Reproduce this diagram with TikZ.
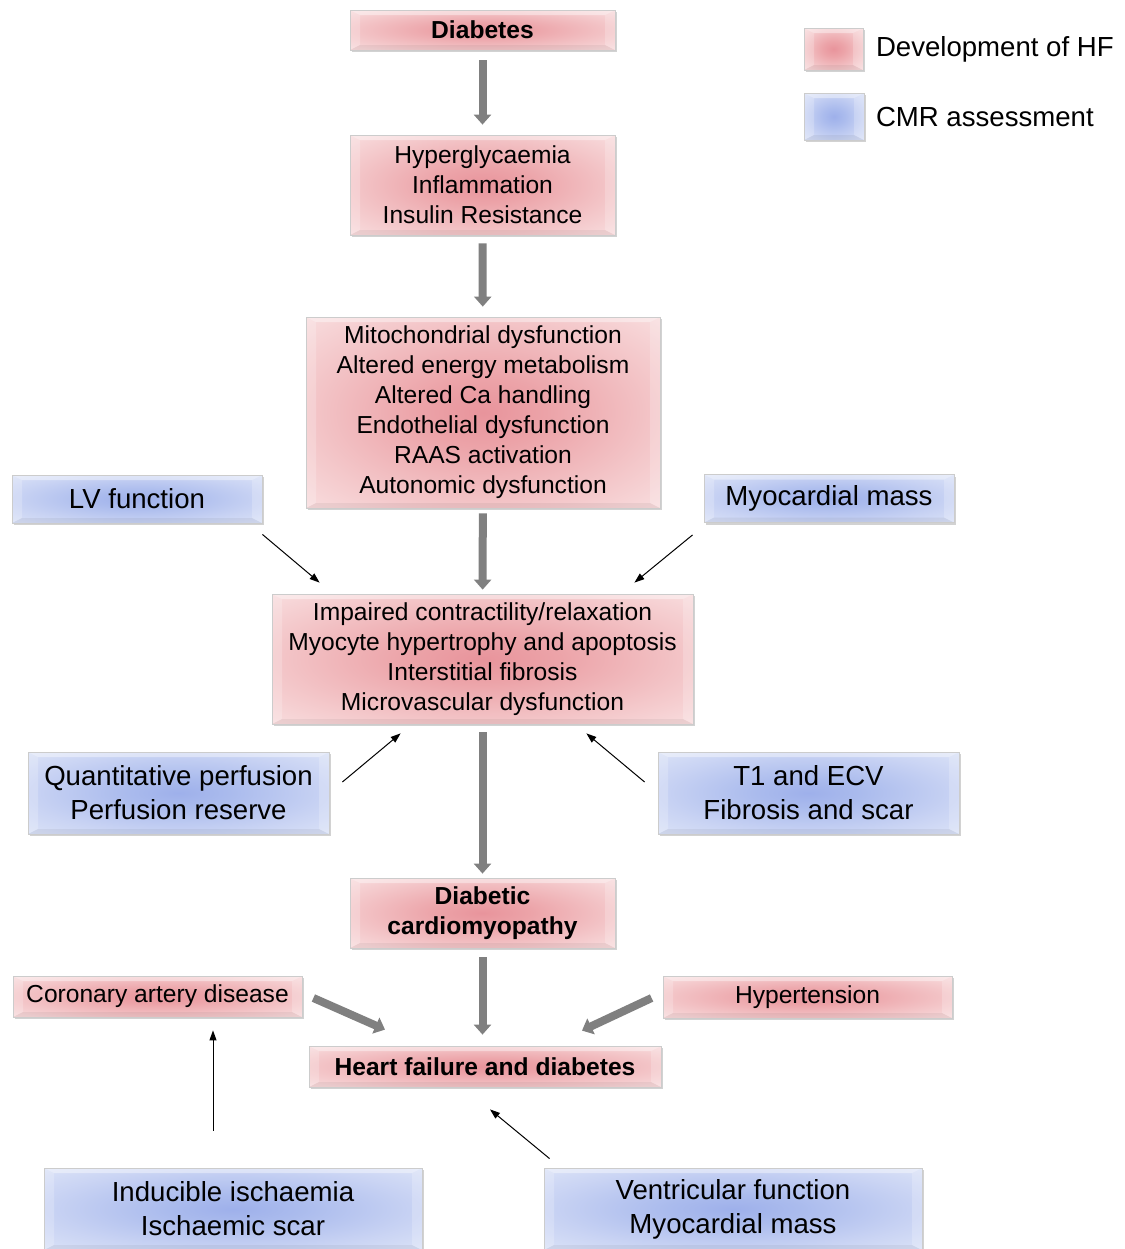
\documentclass[tikz,border=0pt]{standalone}
\usepackage{fontspec}
\setmainfont{Liberation Sans}
\usetikzlibrary{arrows.meta,positioning,shadows}

\definecolor{arrowgray}{RGB}{128,128,128}
\pgfdeclareradialshading{hfshade}{\pgfpoint{0bp}{0bp}}{%
  rgb(0bp)=(0.91,0.58,0.61); rgb(9bp)=(0.925,0.64,0.66);
  rgb(25bp)=(0.955,0.78,0.79); rgb(36bp)=(0.975,0.87,0.875); rgb(50bp)=(0.975,0.87,0.875)}
\pgfdeclareradialshading{cmrshade}{\pgfpoint{0bp}{0bp}}{%
  rgb(0bp)=(0.62,0.69,0.92); rgb(9bp)=(0.67,0.735,0.93);
  rgb(25bp)=(0.79,0.83,0.955); rgb(36bp)=(0.86,0.89,0.97); rgb(50bp)=(0.86,0.89,0.97)}

\begin{document}
\begin{tikzpicture}[
    x = 0.5pt, y = -0.5pt, % one unit = one pixel of the layout
    bigarrow/.style = {draw=arrowgray, line width=4pt, -{Triangle[width=8.5pt,length=5pt]}}, % grey flow
    thinarrow/.style = {draw=black, line width=0.5pt, -{Triangle[width=3.5pt,length=5pt]}}, % CMR pointer
    semithick % line style
    ]

    \tikzset{
    bevel/.style = {path picture={
      \coordinate (nw) at (path picture bounding box.north west);
      \coordinate (ne) at (path picture bounding box.north east);
      \coordinate (sw) at (path picture bounding box.south west);
      \coordinate (se) at (path picture bounding box.south east);
      \coordinate (inw) at ([shift={(5pt,-2.5pt)}]nw);
      \coordinate (ine) at ([shift={(-5pt,-2.5pt)}]ne);
      \coordinate (isw) at ([shift={(5pt,2.5pt)}]sw);
      \coordinate (ise) at ([shift={(-5pt,2.5pt)}]se);
      \fill[white, opacity=0.4] (nw) -- (ne) -- (ine) -- (inw) -- cycle; % top
      \fill[white, opacity=0.2] (nw) -- (inw) -- (isw) -- (sw) -- cycle; % left
      \fill[white, opacity=0.2] (ne) -- (ine) -- (ise) -- (se) -- cycle; % right
      \fill[black, opacity=0.05] (sw) -- (isw) -- (ise) -- (se) -- cycle; % bottom
      }},
    box/.style = {bevel, draw=white!80!black, thin, inner sep=0pt, align=center,
      drop shadow={shadow xshift=0.8pt, shadow yshift=-1.2pt, fill=black!35}},
    hfbox/.style = {box, shading=hfshade, font=\fontsize{12.3}{15}\selectfont},
    cmrbox/.style = {box, shading=cmrshade, font=\fontsize{13.8}{17}\selectfont}
    }

    \fill[white] (0,0) rectangle (1125,1249);
    \useasboundingbox (0,0) rectangle (1125,1249);

    % main chain
    \node[hfbox, minimum width=132.5pt, minimum height=20pt] (diab) at (482.5,30) {\textbf{Diabetes}};
    \node[hfbox, minimum width=132.5pt, minimum height=50pt] (hyper) at (482.5,185)
      {Hyperglycaemia\\Inflammation\\Insulin Resistance};
    \node[hfbox, minimum width=177pt, minimum height=95.5pt] (mito) at (483,412.5)
      {Mitochondrial dysfunction\\Altered energy metabolism\\Altered Ca handling\\
       Endothelial dysfunction\\RAAS activation\\Autonomic dysfunction};
    \node[hfbox, minimum width=210.5pt, minimum height=65pt] (imp) at (482.5,659)
      {Impaired contractility/relaxation\\Myocyte hypertrophy and apoptosis\\
       Interstitial fibrosis\\Microvascular dysfunction};
    \node[hfbox, minimum width=132.5pt, minimum height=35pt] (dcm) at (482.5,913)
      {\textbf{Diabetic}\\\textbf{cardiomyopathy}};
    \node[hfbox, minimum width=176pt, minimum height=20.5pt] (hfd) at (485,1066.5)
      {\textbf{Heart failure and diabetes}};
    \node[hfbox, minimum width=144.5pt, minimum height=20.5pt] (cad) at (157.5,996.5)
      {Coronary artery disease};
    \node[hfbox, minimum width=144.5pt, minimum height=21pt] (htn) at (807.5,997)
      {Hypertension};

    % CMR assessment
    \node[cmrbox, minimum width=125pt, minimum height=24pt] (lvf) at (137,499) {LV function};
    \node[cmrbox, minimum width=125pt, minimum height=24pt] (myo) at (829,498.5) {Myocardial mass};
    \node[cmrbox, minimum width=150.5pt, minimum height=41pt] (quant) at (178.5,793)
      {Quantitative perfusion\\Perfusion reserve};
    \node[cmrbox, minimum width=150.5pt, minimum height=41pt] (t1) at (808.5,793)
      {T1 and ECV\\Fibrosis and scar};
    \node[cmrbox, minimum width=189pt, minimum height=41pt] (isch) at (233,1209)
      {Inducible ischaemia\\Ischaemic scar};
    \node[cmrbox, minimum width=189pt, minimum height=41pt] (vent) at (733,1209)
      {Ventricular function\\Myocardial mass};

    % legend
    \node[hfbox, minimum width=29.5pt, minimum height=21pt] (keyhf) at (833.5,49) {};
    \node[cmrbox, minimum width=30pt, minimum height=23.5pt] (keycmr) at (834,116.5) {};
    \node[font=\fontsize{13.8}{17}\selectfont, anchor=west, inner sep=0pt] (keyhftxt)
      [right=6pt of keyhf] {Development of HF};
    \node[font=\fontsize{13.8}{17}\selectfont, anchor=west, inner sep=0pt] (keycmrtxt)
      [right=5.5pt of keycmr] {CMR assessment};

    \draw[bigarrow, shorten <=5pt, shorten >=5pt] (diab) -- (hyper);
    \draw[bigarrow, shorten <=4pt, shorten >=5pt] (hyper) -- (mito);
    \draw[bigarrow, shorten <=2.5pt, shorten >=2pt] (mito) -- (imp);
    \draw[bigarrow, shorten <=4pt, shorten >=2pt] (imp) -- (dcm);
    \draw[bigarrow, shorten <=4.5pt, shorten >=5.5pt] (dcm.south) -- (dcm.south |- hfd.north);
    \draw[bigarrow] ([xshift=5.5pt,yshift=-0.75pt]cad.east) -- ([xshift=-50pt,yshift=8pt]hfd.north);
    \draw[bigarrow] ([xshift=-5.5pt,yshift=-0.5pt]htn.west) -- ([xshift=48.5pt,yshift=7.5pt]hfd.north);

    \draw[thinarrow] ([yshift=-5.5pt]lvf.south east) -- ([xshift=24pt,yshift=5.5pt]imp.north west);
    \draw[thinarrow] ([xshift=-5.5pt,yshift=-6pt]myo.south west) -- ([xshift=-29.5pt,yshift=5.5pt]imp.north east);
    \draw[thinarrow] ([xshift=6.5pt,yshift=5.5pt]quant.east) -- ([xshift=64.5pt,yshift=-4.5pt]imp.south west);
    \draw[thinarrow] ([xshift=-6.5pt,yshift=5.5pt]t1.west) -- ([xshift=-53.5pt,yshift=-4.5pt]imp.south east);
    \draw[thinarrow] ([xshift=-10pt,yshift=18.5pt]isch.north) -- ([xshift=27.75pt,yshift=-6.5pt]cad.south);
    \draw[thinarrow] ([xshift=3pt,yshift=4.5pt]vent.north west) -- ([xshift=2.5pt,yshift=-11pt]hfd.south);
\end{tikzpicture}
\end{document}
